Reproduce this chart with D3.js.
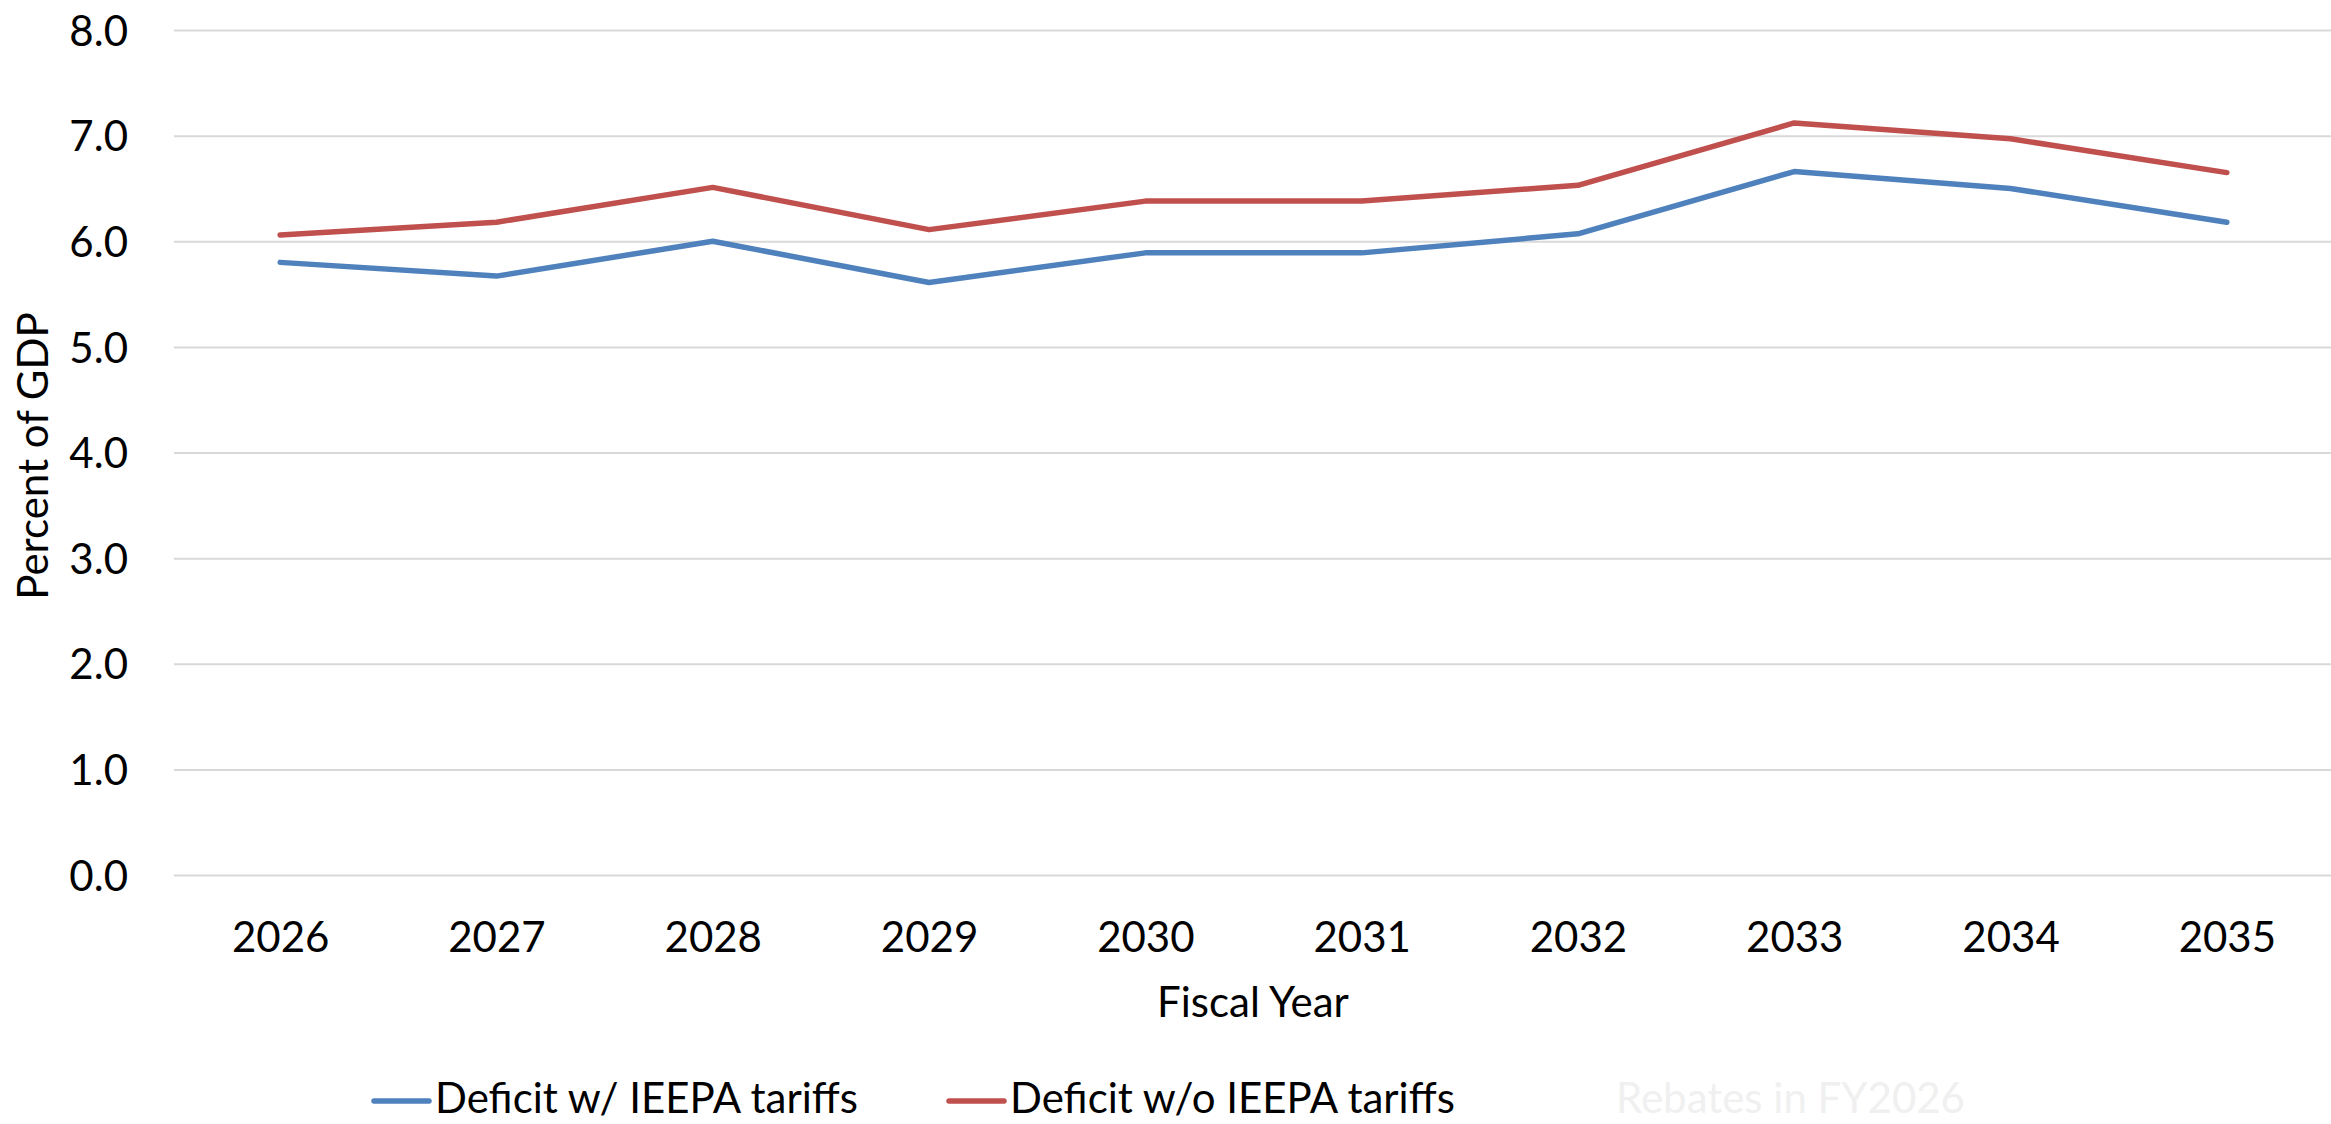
<!DOCTYPE html>
<html>
<head>
<meta charset="utf-8">
<script src="https://cdn.jsdelivr.net/npm/d3@7"></script>
<style>
  html, body { margin: 0; padding: 0; background: #fff; }
  svg text { font-family: Lato, "Open Sans", sans-serif; fill: #000; }
</style>
</head>
<body>
<div id="chart"></div>
<script>
// Values (percent of GDP)
const years = ['2026', '2027', '2028', '2029', '2030', '2031', '2032', '2033', '2034', '2035'];
const deficitWith    = [5.80, 5.67, 6.00, 5.61, 5.89, 5.89, 6.07, 6.66, 6.50, 6.18];
const deficitWithout = [6.06, 6.18, 6.51, 6.11, 6.38, 6.38, 6.53, 7.12, 6.97, 6.65];
const yTicks = [0, 1, 2, 3, 4, 5, 6, 7, 8];

const series = [
  { name: 'Deficit w/ IEEPA tariffs',  values: deficitWith,    color: '#4F81BD' },
  { name: 'Deficit w/o IEEPA tariffs', values: deficitWithout, color: '#C0504D' }
];
// third legend entry is drawn nearly invisible in the original
const ghostLegend = 'Rebates in FY2026';

class LineChart {
  constructor(_config) {
    this.config = {
      parentElement: _config.parentElement,
      width: _config.width || 2331,
      height: _config.height || 1124,
      fontSize: _config.fontSize || 42
    };
    this.initVis();
  }

  initVis() {
    const vis = this;
    const fs = vis.config.fontSize;

    vis.svg = d3.select(vis.config.parentElement)
      .append('svg')
        .attr('width', vis.config.width)
        .attr('height', vis.config.height);

    vis.xScale = d3.scalePoint().domain(years).range([172, 2335]).padding(0.5);
    vis.yScale = d3.scaleLinear().domain([0, 8]).range([875, 30]);

    // Gridlines + y tick labels
    const yAxis = d3.axisLeft(vis.yScale)
      .tickValues(yTicks)
      .tickFormat(d3.format('.1f'))
      .tickSize(-(2331 - 174))
      .tickPadding(46);

    vis.yAxisG = vis.svg.append('g')
      .attr('transform', 'translate(174,0)')
      .call(yAxis);
    vis.yAxisG.select('.domain').remove();
    vis.yAxisG.selectAll('.tick line').attr('stroke', '#D9D9D9').attr('stroke-width', 2);
    vis.yAxisG.selectAll('.tick text')
      .attr('font-size', fs)
      .attr('dy', '0.36em')
      .style('font-family', 'Lato, "Open Sans", sans-serif')
      .attr('fill', '#000');

    // X tick labels
    const xAxis = d3.axisBottom(vis.xScale).tickSize(0).tickPadding(0);
    vis.xAxisG = vis.svg.append('g')
      .attr('transform', 'translate(0,952)')
      .call(xAxis);
    vis.xAxisG.select('.domain').remove();
    vis.xAxisG.selectAll('.tick text')
      .attr('y', 0)
      .attr('dy', 0)
      .attr('font-size', fs)
      .style('font-family', 'Lato, "Open Sans", sans-serif')
      .attr('fill', '#000');

    // Axis titles
    vis.svg.append('text')
      .attr('x', 1253)
      .attr('y', 1017)
      .attr('text-anchor', 'middle')
      .attr('font-size', fs)
      .text('Fiscal Year');

    vis.svg.append('text')
      .attr('transform', 'translate(48,456) rotate(-90)')
      .attr('text-anchor', 'middle')
      .attr('font-size', fs)
      .text('Percent of GDP');

    vis.renderVis();
    vis.renderLegend();
  }

  renderVis() {
    const vis = this;
    const line = d3.line()
      .x((d, i) => vis.xScale(years[i]))
      .y(d => vis.yScale(d));

    vis.svg.selectAll('.series-line')
      .data(series)
      .join('path')
        .attr('class', 'series-line')
        .attr('fill', 'none')
        .attr('stroke', d => d.color)
        .attr('stroke-width', 5.5)
        .attr('stroke-linecap', 'round')
        .attr('stroke-linejoin', 'round')
        .attr('d', d => line(d.values));
  }

  renderLegend() {
    const vis = this;
    const fs = vis.config.fontSize;
    const items = [
      { x: 374, label: series[0].name, color: series[0].color },
      { x: 949, label: series[1].name, color: series[1].color },
      { x: 1555, label: ghostLegend, color: null }
    ];

    const g = vis.svg.append('g').attr('class', 'legend');
    const item = g.selectAll('g')
      .data(items)
      .join('g')
        .attr('transform', d => `translate(${d.x},1101)`);

    item.filter(d => d.color)
      .append('line')
        .attr('x1', 0).attr('x2', 55)
        .attr('stroke', d => d.color)
        .attr('stroke-width', 5.5)
        .attr('stroke-linecap', 'round');

    item.append('text')
      .attr('x', 61)
      .attr('y', 12)
      .attr('font-size', fs)
      .style('fill', d => d.color ? '#000' : '#F0F0F0')
      .text(d => d.label);
  }
}

new LineChart({ parentElement: '#chart' });
</script>
</body>
</html>
